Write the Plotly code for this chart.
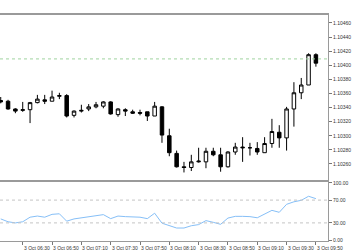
import plotly.graph_objects as go

# ---------------- data ----------------
candle_index = list(range(44))
opens = [1.10350, 1.10349, 1.10338, 1.10336, 1.10337, 1.10347, 1.10351, 1.10349, 1.10356, 1.10357,
         1.10329, 1.10335, 1.10338, 1.10341, 1.10342, 1.10348, 1.10330, 1.10337, 1.10334, 1.10333,
         1.10334, 1.10328, 1.10341, 1.10300, 1.10275, 1.10256, 1.10255, 1.10263, 1.10263, 1.10278,
         1.10273, 1.10256, 1.10277, 1.10284, 1.10283, 1.10282, 1.10276, 1.10289, 1.10305, 1.10297,
         1.10338, 1.10361, 1.10372, 1.10415]
highs = [1.10355, 1.10351, 1.10339, 1.10348, 1.10348, 1.10358, 1.10358, 1.10364, 1.10361, 1.10359,
         1.10336, 1.10344, 1.10345, 1.10348, 1.10349, 1.10349, 1.10339, 1.10339, 1.10337, 1.10337,
         1.10334, 1.10348, 1.10342, 1.10310, 1.10279, 1.10263, 1.10273, 1.10283, 1.10283, 1.10283,
         1.10283, 1.10278, 1.10290, 1.10298, 1.10290, 1.10291, 1.10298, 1.10324, 1.10315, 1.10341,
         1.10376, 1.10382, 1.10417, 1.10417]
lows = [1.10346, 1.10337, 1.10332, 1.10334, 1.10318, 1.10346, 1.10345, 1.10349, 1.10352, 1.10326,
        1.10326, 1.10333, 1.10335, 1.10339, 1.10339, 1.10330, 1.10327, 1.10328, 1.10331, 1.10329,
        1.10321, 1.10328, 1.10290, 1.10271, 1.10255, 1.10248, 1.10250, 1.10262, 1.10254, 1.10271,
        1.10249, 1.10255, 1.10273, 1.10263, 1.10272, 1.10273, 1.10276, 1.10283, 1.10283, 1.10279,
        1.10313, 1.10352, 1.10372, 1.10398]
closes = [1.10348, 1.10338, 1.10335, 1.10337, 1.10347, 1.10352, 1.10349, 1.10355, 1.10357, 1.10328,
          1.10335, 1.10336, 1.10341, 1.10344, 1.10348, 1.10331, 1.10338, 1.10335, 1.10332, 1.10332,
          1.10328, 1.10342, 1.10301, 1.10276, 1.10256, 1.10255, 1.10263, 1.10264, 1.10278, 1.10273,
          1.10256, 1.10277, 1.10284, 1.10283, 1.10283, 1.10277, 1.10289, 1.10306, 1.10297, 1.10338,
          1.10361, 1.10372, 1.10415, 1.10403]
indicator = [37, 32, 30, 32, 40, 42, 40, 45, 46, 33,
             37, 38.6, 40.5, 42.5, 44.5, 37.5, 42, 41, 40, 40,
             37.5, 47, 29.5, 25, 21, 21, 25, 27, 34, 31,
             27.5, 38.5, 41.5, 41.5, 41, 39, 45, 52, 48.6, 62.6,
             67, 69.6, 76.7, 72.5]

price_ticks = [1.10260, 1.10280, 1.10300, 1.10320, 1.10340, 1.10360, 1.10380, 1.10400, 1.10420, 1.10440, 1.10460]
price_tick_labels = ["1.10260", "1.10280", "1.10300", "1.10320", "1.10340", "1.10360",
                     "1.10380", "1.10400", "1.10420", "1.10440", "1.10460"]
ind_ticks = [0, 30, 70, 100]
ind_tick_labels = ["0.00", "30.00", "70.00", "100.00"]
ind_levels = [30, 70]
time_label_index = [-1, 3, 7, 11, 15, 19, 23, 27, 31, 35, 39, 43]
time_labels = ["3 Oct 06:10", "3 Oct 06:30", "3 Oct 06:50", "3 Oct 07:10", "3 Oct 07:30", "3 Oct 07:50",
               "3 Oct 08:10", "3 Oct 08:30", "3 Oct 08:50", "3 Oct 09:10", "3 Oct 09:30", "3 Oct 09:50"]
ask_level = 1.10409

# ---------------- figure ----------------
FONT = "Liberation Sans"
BORDER = "#9a9a9a"
x_range = [-0.1, 44.65]

fig = go.Figure()
fig.add_trace(go.Candlestick(
    x=candle_index, open=opens, high=highs, low=lows, close=closes,
    xaxis="x", yaxis="y",
    increasing=dict(fillcolor="white", line=dict(color="black", width=1)),
    decreasing=dict(fillcolor="black", line=dict(color="black", width=1)),
    whiskerwidth=0, showlegend=False, hoverinfo="skip",
))
fig.add_trace(go.Scatter(
    x=candle_index, y=indicator, mode="lines", xaxis="x2", yaxis="y2",
    line=dict(color="#86bff7", width=1), showlegend=False, hoverinfo="skip",
))

shapes = [dict(type="line", xref="paper", x0=0, x1=1, yref="y", y0=ask_level, y1=ask_level,
               line=dict(color="#9fd39f", width=1, dash="dot"))]
for lv in ind_levels:
    shapes.append(dict(type="line", xref="paper", x0=0, x1=1, yref="y2", y0=lv, y1=lv,
                       line=dict(color="#c4c4c4", width=1, dash="dot")))

annotations = []
for xi, txt in zip(time_label_index, time_labels):
    annotations.append(dict(x=xi, xref="x2", y=-0.008, yref="paper", text=txt, showarrow=False,
                            xanchor="left", yanchor="top", xshift=-1,
                            font=dict(family=FONT, size=5, color="#333333")))

fig.update_layout(
    width=354, height=251,
    margin=dict(l=0, r=26, t=15, b=10),
    paper_bgcolor="white", plot_bgcolor="white",
    boxgap=0.32,
    shapes=shapes, annotations=annotations,
    xaxis=dict(domain=[0, 1], anchor="y", range=x_range, showticklabels=False, ticks="",
               showgrid=False, zeroline=False, showline=True, linecolor=BORDER, linewidth=2,
               mirror=True, rangeslider=dict(visible=False), fixedrange=True),
    yaxis=dict(domain=[0.270, 1], anchor="x", side="right", range=[1.102373, 1.104713],
               tickvals=price_ticks, ticktext=price_tick_labels, ticks="outside", ticklen=3,
               tickcolor="#777777", tickfont=dict(family=FONT, size=5, color="#333333"),
               showgrid=False, zeroline=False, showline=True, linecolor=BORDER, linewidth=1),
    xaxis2=dict(domain=[0, 1], anchor="y2", range=x_range, tickvals=time_label_index[1:],
                showticklabels=False, ticks="outside", ticklen=3, tickcolor="#777777",
                showgrid=False, zeroline=False, showline=True, linecolor=BORDER, linewidth=1,
                mirror=True),
    yaxis2=dict(domain=[0, 0.2655], anchor="x2", side="right", range=[-1.75, 103.5],
                tickvals=ind_ticks, ticktext=ind_tick_labels, ticks="outside", ticklen=3,
                tickcolor="#777777", tickfont=dict(family=FONT, size=5, color="#333333"),
                showgrid=False, zeroline=False, showline=True, linecolor=BORDER, linewidth=1),
)

fig.write_html("out.html")
